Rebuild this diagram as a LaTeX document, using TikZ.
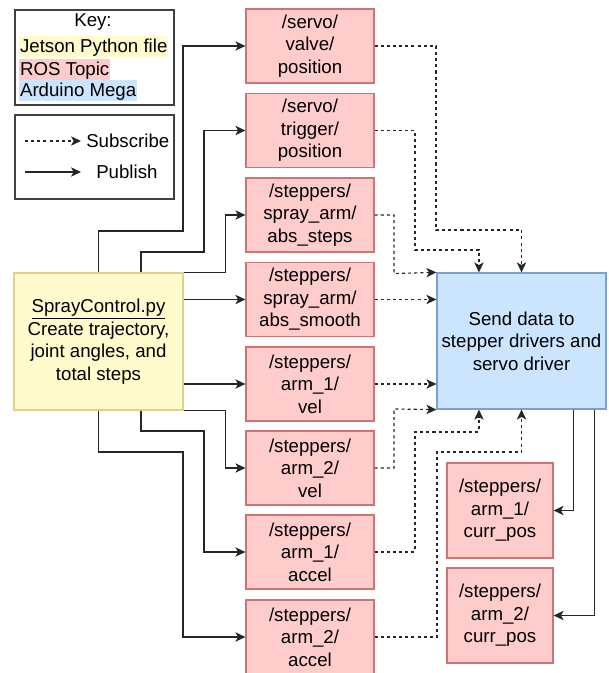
\documentclass[tikz,border=0pt]{standalone}
\usepackage{fontspec}
\setmainfont{Liberation Sans}
\usetikzlibrary{arrows.meta,calc}
\definecolor{pyfill}{HTML}{FFFBCC}
\definecolor{pydraw}{HTML}{E2D089}
\definecolor{rosfill}{HTML}{FFCCCC}
\definecolor{rosdraw}{HTML}{CF7472}
\definecolor{ardfill}{HTML}{CCE5FF}
\definecolor{arddraw}{HTML}{7C9FD4}
\tikzset{
  txt/.style={font=\fontsize{14}{16.9}\selectfont, align=center, inner sep=0pt},
  topic/.style={txt, draw=rosdraw, fill=rosfill, line width=0.9pt,
                minimum width=96pt, minimum height=55.5pt},
  currbox/.style={txt, draw=rosdraw, fill=rosfill, line width=0.9pt,
                minimum width=79.5pt, minimum height=71.25pt},
  pybox/.style={txt, draw=pydraw, fill=pyfill, line width=0.9pt,
                minimum width=126.75pt, minimum height=102.75pt},
  ardbox/.style={txt, draw=arddraw, fill=ardfill, line width=0.9pt,
                minimum width=126.75pt, minimum height=102pt},
  frame/.style={draw=black!75, line width=1.1pt, minimum width=119.25pt, inner sep=0pt},
  hl/.style={txt, anchor=west, text height=12.6pt, text depth=3.3pt, inner xsep=0.6pt},
  tip/.style={-{Stealth[length=7.5pt,width=7pt,inset=2pt]}},
  pub/.style={tip, draw=black!85, line width=0.85pt},
  sub/.style={pub, dash pattern=on 2.3pt off 2.3pt},
}
\begin{document}
\begin{tikzpicture}[x=0.75pt,y=-0.75pt]
\useasboundingbox (0,0) rectangle (608,673);

% legend: colour key
\node[frame, minimum height=71.25pt] (keyframe) at (94.5,57.5) {};
\node[txt] (keyt) at (93,22) {Key:};
\node[hl, fill=pyfill] (k1) at (19,46.5) {Jetson Python file};
\node[hl, fill=rosfill] (k2) at (19,69.5) {ROS Topic};
\node[hl, fill=ardfill] (k3) at (19,90.5) {Arduino Mega};

% legend: connector styles
\node[frame, minimum height=63pt] (lineframe) at (94.5,157) {};
\coordinate (s0) at (25,141);
\coordinate (s1) at (81,141);
\draw[sub] (s0) -- (s1);
\node[txt, anchor=west] (subl) at (86,141) {Subscribe};
\coordinate (p0) at (25,172);
\coordinate (p1) at (81,172);
\draw[pub] (p0) -- (p1);
\node[txt, anchor=west] (publ) at (96,172) {Publish};

% python program
\node[pybox] (sc) at (98.5,341.5)
  {\underline{SprayControl.py}\\Create trajectory,\\joint angles, and\\total steps};

% ROS topics
\node[topic] (t1) at (310,46)    {/servo/\\valve/\\position};
\node[topic] (t2) at (310,130.5) {/servo/\\trigger/\\position};
\node[topic] (t3) at (310,215)   {/steppers/\\spray\_arm/\\abs\_steps};
\node[topic] (t4) at (310,299.5) {/steppers/\\spray\_arm/\\abs\_smooth};
\node[topic] (t5) at (310,384)   {/steppers/\\arm\_1/\\vel};
\node[topic] (t6) at (310,468)   {/steppers/\\arm\_2/\\vel};
\node[topic] (t7) at (310,552)   {/steppers/\\arm\_1/\\accel};
\node[topic] (t8) at (310,637)   {/steppers/\\arm\_2/\\accel};

% arduino
\node[ardbox] (ard) at (521.5,341)
  {Send data to\\stepper drivers and\\servo driver};

% feedback topics
\node[currbox] (c1) at (500,510.5) {/steppers/\\arm\_1/\\curr\_pos};
\node[currbox] (c2) at (500,615.5) {/steppers/\\arm\_2/\\curr\_pos};

% attachment points along box edges
\coordinate (scNq) at ($(sc.north west)!0.75!(sc.north east)$);
\coordinate (scSq) at ($(sc.south west)!0.75!(sc.south east)$);
\coordinate (ardNq) at ($(ard.north west)!0.25!(ard.north east)$);
\coordinate (ardSq) at ($(ard.south west)!0.25!(ard.south east)$);
\coordinate (ardS1) at ($(ard.south west)!0.805!(ard.south east)$);
\coordinate (ardS2) at ($(ard.south west)!0.93!(ard.south east)$);

% publishing
\draw[pub] (sc.north) |- (183,231) |- (t1.west);
\draw[pub] (scNq) |- (204,252) |- (t2.west);
\draw[pub] (sc.north east) -- ++(42,0) |- (t3.west);
\draw[pub] (sc.east |- t4.west) -- (t4.west);
\draw[pub] (sc.east |- t5.west) -- (t5.west);
\draw[pub] (sc.south east) -- ++(42,0) |- (t6.west);
\draw[pub] (scSq) |- (204,431) |- (t7.west);
\draw[pub] (sc.south) |- (183,452) |- (t8.west);

% subscribing
\draw[sub] (t1.east) -| (436,230) -| (ard.north);
\draw[sub] (t2.east) -| (415,250) -| (ardNq);
\draw[sub] (t3.east) -| (394,273.5) -- (ard.north west);
\draw[sub] (t4.east) -- (t4.east -| ard.west);
\draw[sub] (t5.east) -- (t5.east -| ard.west);
\draw[sub] (t6.east) -| (394,409) -- (ard.south west);
\draw[sub] (t7.east) -| (415,432) -| (ardSq);
\draw[sub] (t8.east) -| (437,452) -| (ard.south);

% arduino publishing positions
\draw[pub] (ardS1) |- (c1.east);
\draw[pub] (ardS2) |- (c2.east);
\end{tikzpicture}
\end{document}
